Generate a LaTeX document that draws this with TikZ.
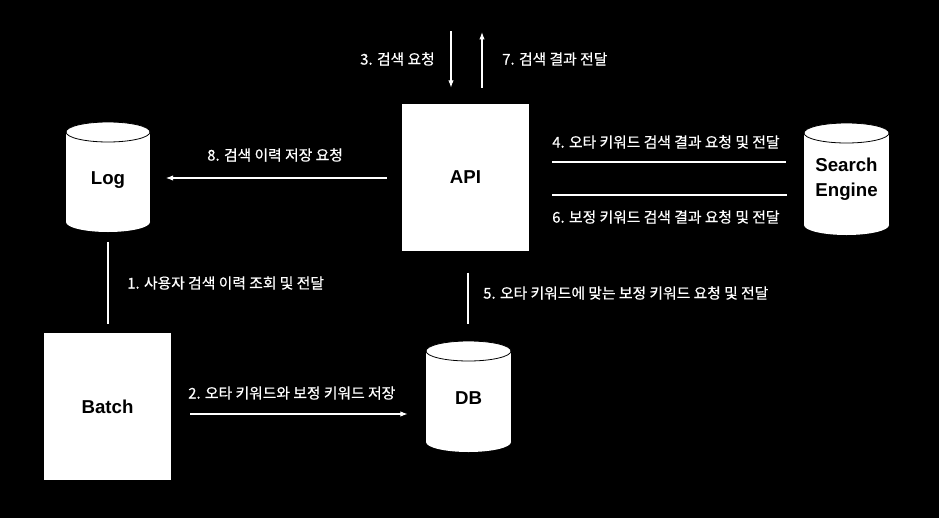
\documentclass[tikz,border=0pt]{standalone}
\usepackage{fontspec}
\setmainfont{Liberation Sans}
\newfontfamily\kr{Noto Sans CJK KR}[FakeBold=0.6]
\usetikzlibrary{calc,arrows.meta}
\begin{document}
\begin{tikzpicture}[x=0.75pt,y=-0.75pt,
  box/.style={fill=white,draw=none,minimum width=95.25pt,minimum height=110.25pt,inner sep=0pt,
    font=\fontsize{14}{17}\selectfont\bfseries,text=black},
  cyltext/.style={inner sep=0pt,minimum width=63.75pt,minimum height=83.25pt,align=center,
    font=\fontsize{14}{18.75}\selectfont\bfseries,text=black},
  lbl/.style={text=white,anchor=west,inner sep=0pt,font=\kr\fontsize{11.1}{12}\selectfont},
  link/.style={draw=white,line width=0.8pt},
  arr/.style={link,-{Latex[length=5.5pt,width=4pt]}}]
\fill[black] (0,0) rectangle (939,518);
\useasboundingbox (0,0) rectangle (939,518);
% cylinders: #1 cx, #2 top, #3 bottom, #4 rx
\newcommand\mycyl[4]{%
  \fill[white] ($(#1,#2)+(-#4,10)$) rectangle ($(#1,#3)+(#4,-10)$);
  \fill[white] (#1,#3-10) ellipse[x radius=#4*0.75pt, y radius=7.5pt];
  \filldraw[fill=white,draw=black,line width=0.6pt] (#1,#2+10) ellipse[x radius=#4*0.75pt, y radius=7.5pt];}
\mycyl{108}{122}{232}{42}
\mycyl{846.5}{123}{235}{42.5}
\mycyl{468.5}{341}{452}{42.5}
\node[cyltext] (log) at (108,180) {Log};
\node[cyltext] (se) at (846.5,179.5) {Search\\Engine};
\node[cyltext] (db) at (468.5,398.5) {DB};
% boxes
\node[box] (api) at (465.5,177.5) {API};
\node[box] (batch) at (107.5,406.5) {Batch};
% free ends
\coordinate (top3) at (451,31);
\coordinate (top7) at (482,31);
% connectors
\draw[arr] (top3) -- (top3 |- {$(api.north)+(0,-16)$});
\draw[arr] (top7 |- {$(api.north)+(0,-16)$}) -- ($(top7)+(0,1)$);
\draw[arr] ($(api.west)+(-15,0.5)$) -- ($(log.east)+(15,-2)$);
\draw[link] ($(api.east)+(23,-15.5)$) -- ($(se.west)+(-18,-17.5)$);
\draw[link] ($(api.east)+(23,17.5)$) -- ($(se.west)+(-17,15.5)$);
\draw[link] ($(log.south)+(0,9-3)$) -- ($(log.south)+(0,91-3)$);
\draw[link] ($(db.north)+(-0.5,-70)$) -- ($(db.north)+(-0.5,-19)$);
\draw[arr] ($(batch.east)+(19,7.5)$) -- ($(db.west)+(-18,15.5)$);
% labels
\node[lbl] (t3) at (360,59) {3. 검색 요청};
\node[lbl] (t7) at (502,59) {7. 검색 결과 전달};
\node[lbl] (t8) at (207,155) {8. 검색 이력 저장 요청};
\node[lbl] (t4) at (552,142) {4. 오타 키워드 검색 결과 요청 및 전달};
\node[lbl] (t6) at (552,217) {6. 보정 키워드 검색 결과 요청 및 전달};
\node[lbl] (t1) at (127,283) {1. 사용자 검색 이력 조회 및 전달};
\node[lbl] (t5) at (483,293) {5. 오타 키워드에 맞는 보정 키워드 요청 및 전달};
\node[lbl] (t2) at (188,393) {2. 오타 키워드와 보정 키워드 저장};
\end{tikzpicture}
\end{document}
